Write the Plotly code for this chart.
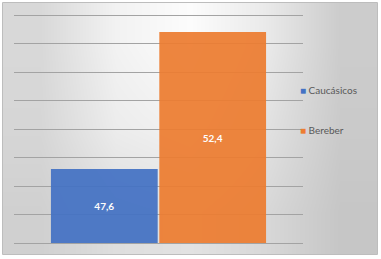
import plotly.graph_objects as go

# Data
categories = [""]
series_names = ["Caucásicos", "Bereber"]
values_caucasicos = [47.6]
values_bereber = [52.4]
series_colors = ["#4472C4", "#ED7D31"]
axis_min, axis_max = 45, 53

# Background gradient levels (decorative)
bg_z = [
    [208, 222, 226, 216, 198],
    [214, 236, 242, 226, 202],
    [216, 242, 252, 234, 204],
]

W, H = 381, 259
fig = go.Figure()

# decorative gradient background on subplot xy
fig.add_trace(go.Heatmap(
    z=bg_z, zsmooth="best", zmin=0, zmax=255,
    colorscale=[[0, "rgb(0,0,0)"], [1, "rgb(255,255,255)"]],
    showscale=False, hoverinfo="skip", xaxis="x", yaxis="y",
))

values = [values_caucasicos, values_bereber]
for name, vals, col in zip(series_names, values, series_colors):
    fig.add_trace(go.Bar(
        x=categories, y=[v - axis_min for v in vals], base=axis_min,
        name=name, text=[f"{v:.1f}".replace(".", ",") for v in vals],
        marker=dict(color=col, line=dict(width=0)), opacity=0.93,
        textposition="inside", insidetextanchor="middle",
        textfont=dict(color="white", size=10, family="Lato", weight="bold"),
        xaxis="x2", yaxis="y2", hoverinfo="skip", showlegend=False,
    ))

pad = 0.12  # keep edge gridlines visible
px_per_unit = 228 / (axis_max - axis_min)
ext = pad * px_per_unit

# legend drawn as a box with text entries
legend_shapes = [dict(type="rect", xref="paper", yref="paper",
                      x0=292 / W, x1=354 / W, y0=(H - 151) / H, y1=(H - 69) / H,
                      fillcolor="rgba(255,255,255,0.45)", line=dict(width=0),
                      layer="below")]
legend_annos = []
for name, col, ypix in zip(series_names, series_colors, [90, 130]):
    legend_annos.append(dict(
        xref="paper", yref="paper", x=298 / W, y=(H - ypix) / H,
        xanchor="left", yanchor="middle", showarrow=False,
        text=f"<span style='color:{col}'>■</span> {name}",
        font=dict(size=10, color="#595959", family="Lato"),
    ))

fig.update_layout(
    width=W, height=H,
    margin=dict(l=0, r=0, t=0, b=0),
    paper_bgcolor="white",
    plot_bgcolor="rgba(0,0,0,0)",
    showlegend=False,
    barmode="group", bargap=0.25, bargroupgap=0.015,
    font=dict(family="Lato", color="#595959"),
    xaxis=dict(domain=[3 / W, 377 / W], range=[-0.5, 4.5], visible=False,
               fixedrange=True),
    yaxis=dict(domain=[5 / H, 256 / H], range=[-0.5, 2.5], visible=False,
               fixedrange=True),
    xaxis2=dict(domain=[14 / W, 303 / W], anchor="y2", showticklabels=False,
                showgrid=False, zeroline=False, showline=False, ticks=""),
    yaxis2=dict(domain=[(16 - ext) / H, (244 + ext) / H], anchor="x2",
                range=[axis_min - pad, axis_max + pad],
                dtick=1, tick0=axis_min, showticklabels=False, ticks="",
                showline=False, zeroline=False, showgrid=True,
                gridcolor="#a3a3a3", gridwidth=1),
    shapes=legend_shapes + [dict(type="rect", xref="paper", yref="paper",
                 x0=2.5 / W, x1=377.5 / W, y0=4.5 / H, y1=256.5 / H,
                 line=dict(color="#bdbdbd", width=1), layer="above")],
    annotations=legend_annos,
)

fig.write_html("out.html", config={"displayModeBar": False},
               post_script="document.body.style.margin='0';")
